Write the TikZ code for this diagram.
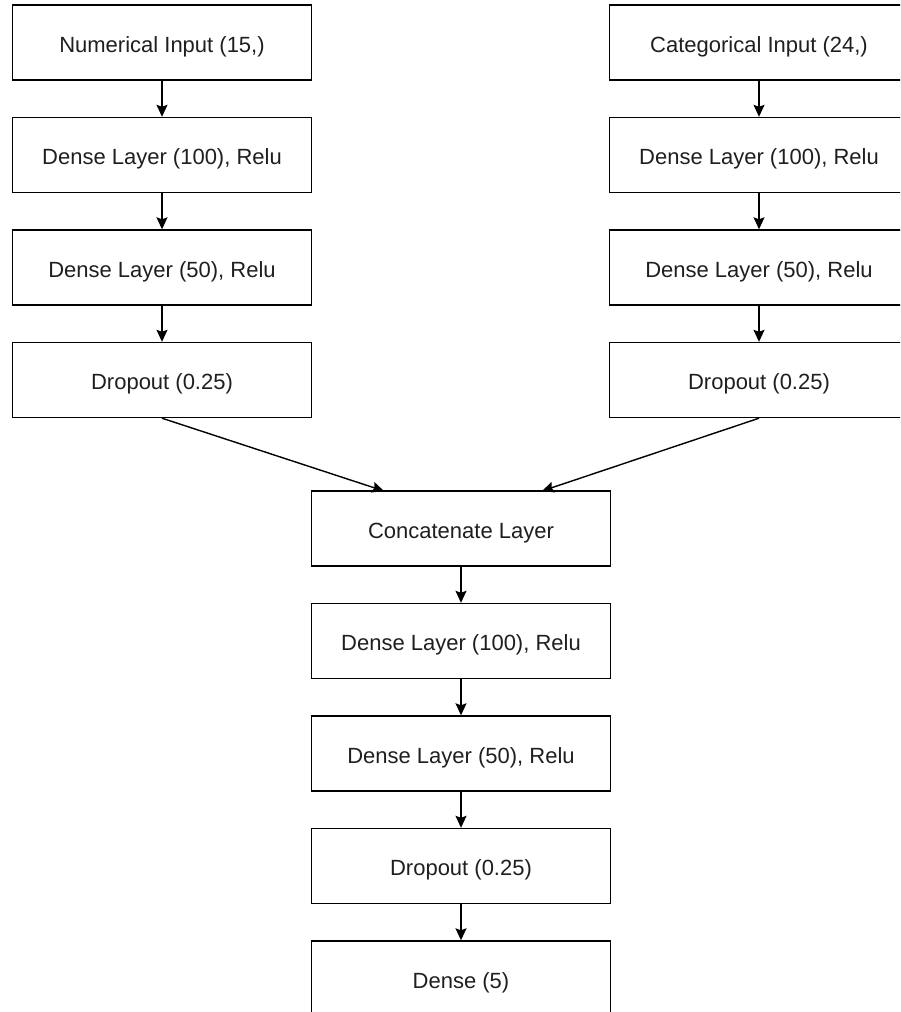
\documentclass[tikz,border=0pt]{standalone}
\usepackage{fontspec}
\setmainfont{Liberation Sans}
\usetikzlibrary{arrows.meta}
\begin{document}
\begin{tikzpicture}[x=1pt,y=-1pt,
  layer/.style={draw=black, line width=1.4pt, minimum width=299pt, minimum height=75pt, inner sep=0pt, text height=19pt, text depth=0pt, font=\fontsize{22}{26}\selectfont, text=black!88},
  flow/.style={line width=1.4pt, -{Stealth[length=12pt,width=11pt,inset=2pt]}}]
\useasboundingbox (0,0) rectangle (900,1012);
\clip (0,0) rectangle (900,1012);
\node[layer] (n1) at (162,42.5) {Numerical Input (15,)};
\node[layer] (n2) at (162,155) {Dense Layer (100), Relu};
\node[layer] (n3) at (162,267.5) {Dense Layer (50), Relu};
\node[layer] (n4) at (162,380) {Dropout (0.25)};
\node[layer] (c1) at (759,42.5) {Categorical Input (24,)};
\node[layer] (c2) at (759,155) {Dense Layer (100), Relu};
\node[layer] (c3) at (759,267.5) {Dense Layer (50), Relu};
\node[layer] (c4) at (759,380) {Dropout (0.25)};
\node[layer] (m1) at (461,528.5) {Concatenate Layer};
\node[layer] (m2) at (461,641) {Dense Layer (100), Relu};
\node[layer] (m3) at (461,753.5) {Dense Layer (50), Relu};
\node[layer] (m4) at (461,866) {Dropout (0.25)};
\node[layer] (m5) at (461,978.5) {Dense (5)};
\coordinate (inL) at (384,491);
\coordinate (inR) at (542,491);
\draw[flow] (n1) -- (n2);
\draw[flow] (n2) -- (n3);
\draw[flow] (n3) -- (n4);
\draw[flow] (c1) -- (c2);
\draw[flow] (c2) -- (c3);
\draw[flow] (c3) -- (c4);
\draw[flow] (n4.south) -- (inL);
\draw[flow] (c4.south) -- (inR);
\draw[flow] (m1) -- (m2);
\draw[flow] (m2) -- (m3);
\draw[flow] (m3) -- (m4);
\draw[flow] (m4) -- (m5);
\end{tikzpicture}
\end{document}
